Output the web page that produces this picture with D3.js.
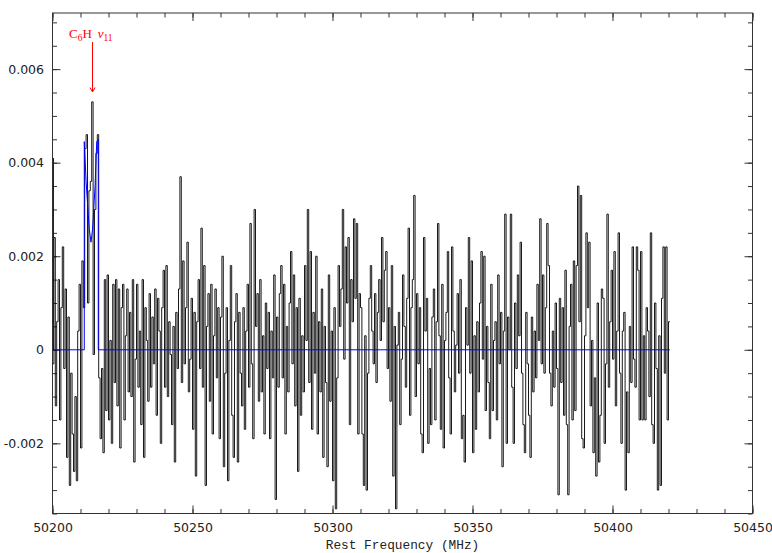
<!DOCTYPE html>
<html>
<head>
<meta charset="utf-8">
<script src="https://cdn.jsdelivr.net/npm/d3@7"></script>
<style>
  body { margin: 0; background: #fff; }
  svg { display: block; }
</style>
</head>
<body>
<div id="viz"></div>
<script>
// spectrum: channel grid (MHz) and antenna temperature in mK
const firstEdge = 50200;
const channelWidth = 0.5;
const tmb_mK = [
  -0.3, 2.4, -1.2, 0.6, 1.5, -1.5, 0.9, 2.2, -0.4, 1.3,
  -2.3, 0.7, -2.9, -0.5, -1.8, -2.6, -1.0, -2.8, 0.4, 1.4,
  -2.1, 1.9, 0.9, 4.3, 4.6, 1.0, 3.4, 3.6, 5.3, -0.1,
  3.0, 4.2, 4.6, -0.6, -1.9, -0.4, -2.2, 1.5, -1.3, 1.6,
  -1.5, 0.2, -2.0, 1.4, -0.7, 1.5, -1.2, 1.3, -2.1, 0.9,
  1.4, -1.5, 0.3, 1.3, -0.9, 0.8, -1.0, 1.5, -2.4, -0.2,
  1.4, -0.8, 0.4, -1.6, 1.5, -2.3, 0.9, 0.2, -1.1, 1.2,
  -0.8, 0.7, -0.3, 1.3, -1.4, 1.1, 0.4, -2.0, 0.9, 1.7,
  -0.8, 1.8, -1.0, 0.6, -0.1, -1.6, 0.5, -2.4, 0.8, -0.4,
  1.3, 3.7, -0.7, 1.9, -0.3, 0.9, 2.3, -0.9, -0.2, 1.1,
  -1.7, 0.8, -2.7, 0.6, 1.5, -0.4, 2.6, -0.8, 1.8, -2.9,
  0.5, 1.2, -1.1, 1.4, -1.8, 0.3, 1.3, -0.6, 0.9, -1.9,
  0.7, 2.0, -2.5, -0.5, 0.9, -2.8, 0.2, 1.8, -1.4, -2.3,
  0.6, 1.2, -2.4, 0.8, -0.5, -1.2, 0.9, -1.7, 0.4, 1.4,
  -0.8, 2.7, -0.3, -1.9, 3.0, 0.5, 1.2, -1.1, 1.5, -0.9,
  0.3, -1.8, 1.0, -0.4, 0.8, -1.9, 0.4, -0.6, 1.6, -3.2,
  0.7, -0.8, 1.2, 1.8, -0.6, 1.4, -1.8, 0.5, -0.9, 1.0,
  2.1, -0.3, 1.6, -1.2, 0.9, -2.6, 1.1, -1.4, 0.3, -0.9,
  1.8, 0.2, 3.0, -0.7, 2.1, -1.7, 0.8, -0.5, 2.0, -1.8,
  0.6, -0.9, 1.3, -2.3, 0.5, -0.7, -2.5, 1.6, -1.1, 0.4,
  -2.8, 0.9, -3.4, -0.6, 1.8, 0.5, 1.3, 3.0, -0.2, 2.2,
  1.0, 2.4, -1.6, 1.5, 0.6, 2.8, 1.1, 2.7, -1.8, 1.2,
  0.9, -1.8, -2.9, 0.3, -3.0, -0.5, 1.1, 1.8, 0.4, -0.3,
  1.2, -0.7, 0.8, 1.5, 0.2, 2.4, 0.6, 1.7, 2.1, -0.4,
  0.9, -1.1, 1.8, -2.7, 0.5, -3.4, 0.1, 0.8, -1.6, -0.2,
  1.6, 0.5, -0.8, 1.1, 2.6, -1.4, 0.9, 1.5, 3.3, -1.0,
  1.2, -0.3, 0.9, -1.8, -2.2, 2.4, 0.4, 1.1, -2.0, -0.4,
  -1.6, 0.7, 1.3, -1.5, 0.6, 2.7, 0.3, -1.7, 1.4, -2.1,
  0.2, 0.8, 2.1, -0.6, -1.8, 2.2, 0.4, -0.9, 0.1, 1.2,
  -0.5, 1.5, -1.9, -1.4, -2.4, 0.9, 0.1, 2.4, -0.5, 1.9,
  -2.2, 0.3, -1.7, 0.6, -0.9, 1.0, 2.1, -0.2, 2.0, -1.3,
  0.5, -0.7, -1.9, 1.4, -1.3, 0.2, 0.6, -1.5, 1.6, -0.3,
  0.8, -2.5, 0.4, 2.9, -2.0, 0.7, 0.0, 2.9, -0.8, -2.0,
  1.0, -0.4, 1.6, 0.3, 2.3, -0.5, -1.6, -2.2, 0.8, -0.3,
  -1.4, -2.3, 0.7, -0.9, 0.4, -0.6, 1.4, 0.2, 2.8, -0.3,
  1.6, -0.5, 0.9, 2.7, 1.8, -0.5, -1.2, 0.4, -0.8, 1.0,
  -0.4, -3.1, 1.1, -0.7, 0.9, -1.4, 1.7, -1.6, -3.1, 0.5,
  1.4, -1.5, 1.9, -1.3, 1.8, 3.5, 0.6, 3.3, -1.9, -2.1,
  0.3, 2.5, 0.9, 2.3, -1.2, 0.2, -2.2, -0.6, -2.7, 1.0,
  -2.4, -1.4, 1.3, 1.1, -2.0, -0.3, 2.9, -0.8, 0.6, 1.7,
  -0.2, 2.1, -1.2, 0.4, 2.5, -0.5, -2.0, 0.4, 0.8, -3.0,
  -0.9, -2.2, 0.5, -0.7, 2.2, -0.2, -0.8, 2.2, 1.7, -1.5,
  2.1, -1.5, 0.3, -1.5, 0.9, 0.4, -1.0, 2.5, -1.6, -2.0,
  1.0, -0.4, -3.0, 0.3, -2.9, 1.1, 2.2, -0.5, 2.2, -1.5,
  0.6
];

// fitted line profile (blue), MHz / mK
const modelFreq = [50200.35, 50200.35, 50211.35, 50211.35, 50212.0, 50213.1, 50213.75,
                   50214.35, 50215.2, 50215.8, 50216.35, 50216.35, 50420.5];
const model_mK  = [4.1, 0, 0, 4.45, 3.6, 2.6, 2.3, 2.6, 3.5, 4.45, 4.5, 0, 0];

// axes
const xMajor = [50200, 50250, 50300, 50350, 50400, 50450];
const yMajor = [-0.002, 0, 0.002, 0.004, 0.006];
const xLabel = 'Rest Frequency (MHz)';
const lineName = { base: 'C', sub1: '6', mid: 'H ', greek: 'ν', sub2: '11' };
const markFreq = 50214.1;

const W = 772, H = 553;
const mLeft = 52.5, mRight = 752.5, mTop = 13, mBottom = 513.5;

const x = d3.scaleLinear().domain([50200, 50450]).range([mLeft, mRight]);
const y = d3.scaleLinear().domain([-0.0035, 0.0072]).range([mBottom, mTop]);

const svg = d3.select('#viz')
    .append('svg')
    .attr('width', W)
    .attr('height', H);

svg.append('clipPath').attr('id', 'clip')
    .append('rect')
    .attr('x', mLeft).attr('y', mTop)
    .attr('width', mRight - mLeft).attr('height', mBottom - mTop);

// ticks (inward, on all four sides)
const xMinor = d3.range(50200, 50451, 10);
const yMinor = d3.range(-35, 72, 5).map(v => v / 10000);

function addAxis(axis, tx, ty) {
  const g = svg.append('g')
      .attr('transform', `translate(${tx},${ty})`)
      .call(axis);
  g.select('.domain').remove();
  g.selectAll('line').attr('stroke', '#333');
  return g;
}

addAxis(d3.axisBottom(x).tickValues(xMinor).tickSize(-4.5).tickFormat(''), 0, mBottom);
addAxis(d3.axisTop(x).tickValues(xMinor).tickSize(-4.5).tickFormat(''), 0, mTop);
addAxis(d3.axisLeft(y).tickValues(yMinor).tickSize(-4.5).tickFormat(''), mLeft, 0);
addAxis(d3.axisRight(y).tickValues(yMinor).tickSize(-4.5).tickFormat(''), mRight, 0);
addAxis(d3.axisTop(x).tickValues(xMajor).tickSize(-8).tickFormat(''), 0, mTop);
addAxis(d3.axisRight(y).tickValues(yMajor).tickSize(-8).tickFormat(''), mRight, 0);

const xg = addAxis(d3.axisBottom(x).tickValues(xMajor).tickSize(-8).tickPadding(10)
    .tickFormat(d3.format('d')), 0, mBottom);
const yg = addAxis(d3.axisLeft(y).tickValues(yMajor).tickSize(-8).tickPadding(8.5)
    .tickFormat(d => d === 0 ? '0' : d.toFixed(3)), mLeft, 0);

[xg, yg].forEach(g => g.selectAll('text')
    .attr('font-family', 'DejaVu Sans')
    .attr('font-size', 12.5)
    .attr('fill', '#222'));

svg.append('rect')
    .attr('x', mLeft).attr('y', mTop)
    .attr('width', mRight - mLeft).attr('height', mBottom - mTop)
    .attr('fill', 'none')
    .attr('stroke', '#333')
    .attr('stroke-width', 1);

// histogram of the spectrum
const steps = tmb_mK.map((v, i) => [firstEdge + i * channelWidth, v / 1000]);
steps.push([firstEdge + tmb_mK.length * channelWidth, tmb_mK[tmb_mK.length - 1] / 1000]);

svg.append('path')
    .datum(steps)
    .attr('clip-path', 'url(#clip)')
    .attr('fill', 'none')
    .attr('stroke', '#000')
    .attr('stroke-width', 0.9)
    .attr('d', d3.line().x(d => x(d[0])).y(d => y(d[1])).curve(d3.curveStepAfter));

svg.append('path')
    .datum(modelFreq.map((f, i) => [f, model_mK[i] / 1000]))
    .attr('clip-path', 'url(#clip)')
    .attr('fill', 'none')
    .attr('stroke', '#0000ff')
    .attr('stroke-width', 1)
    .attr('d', d3.line().x(d => x(d[0])).y(d => y(d[1])));

svg.append('text')
    .attr('x', (mLeft + mRight) / 2)
    .attr('y', 549)
    .attr('text-anchor', 'middle')
    .attr('font-family', 'Liberation Mono')
    .attr('font-size', 12.8)
    .attr('fill', '#222')
    .text(xLabel);

// line identification
const red = '#ff0000';
const lab = svg.append('text')
    .attr('x', 69)
    .attr('y', 37.5)
    .attr('font-family', 'Liberation Serif')
    .attr('font-size', 13)
    .attr('fill', red);
lab.append('tspan').text(lineName.base);
lab.append('tspan').attr('dy', 3).attr('font-size', 9.5).text(lineName.sub1);
lab.append('tspan').attr('dy', -3).text(lineName.mid + '\u2009');
lab.append('tspan').attr('font-style', 'italic').text(lineName.greek);
lab.append('tspan').attr('dy', 3).attr('font-size', 9.5).text(lineName.sub2);

const ax = Math.round(x(markFreq)) + 0.5;
svg.append('line')
    .attr('x1', ax).attr('x2', ax)
    .attr('y1', 42).attr('y2', 92)
    .attr('stroke', red).attr('stroke-width', 1);
svg.append('path')
    .attr('d', `M${ax - 2.5},87.5 L${ax},92 L${ax + 2.5},87.5`)
    .attr('fill', 'none')
    .attr('stroke', red)
    .attr('stroke-width', 1);
</script>
</body>
</html>
